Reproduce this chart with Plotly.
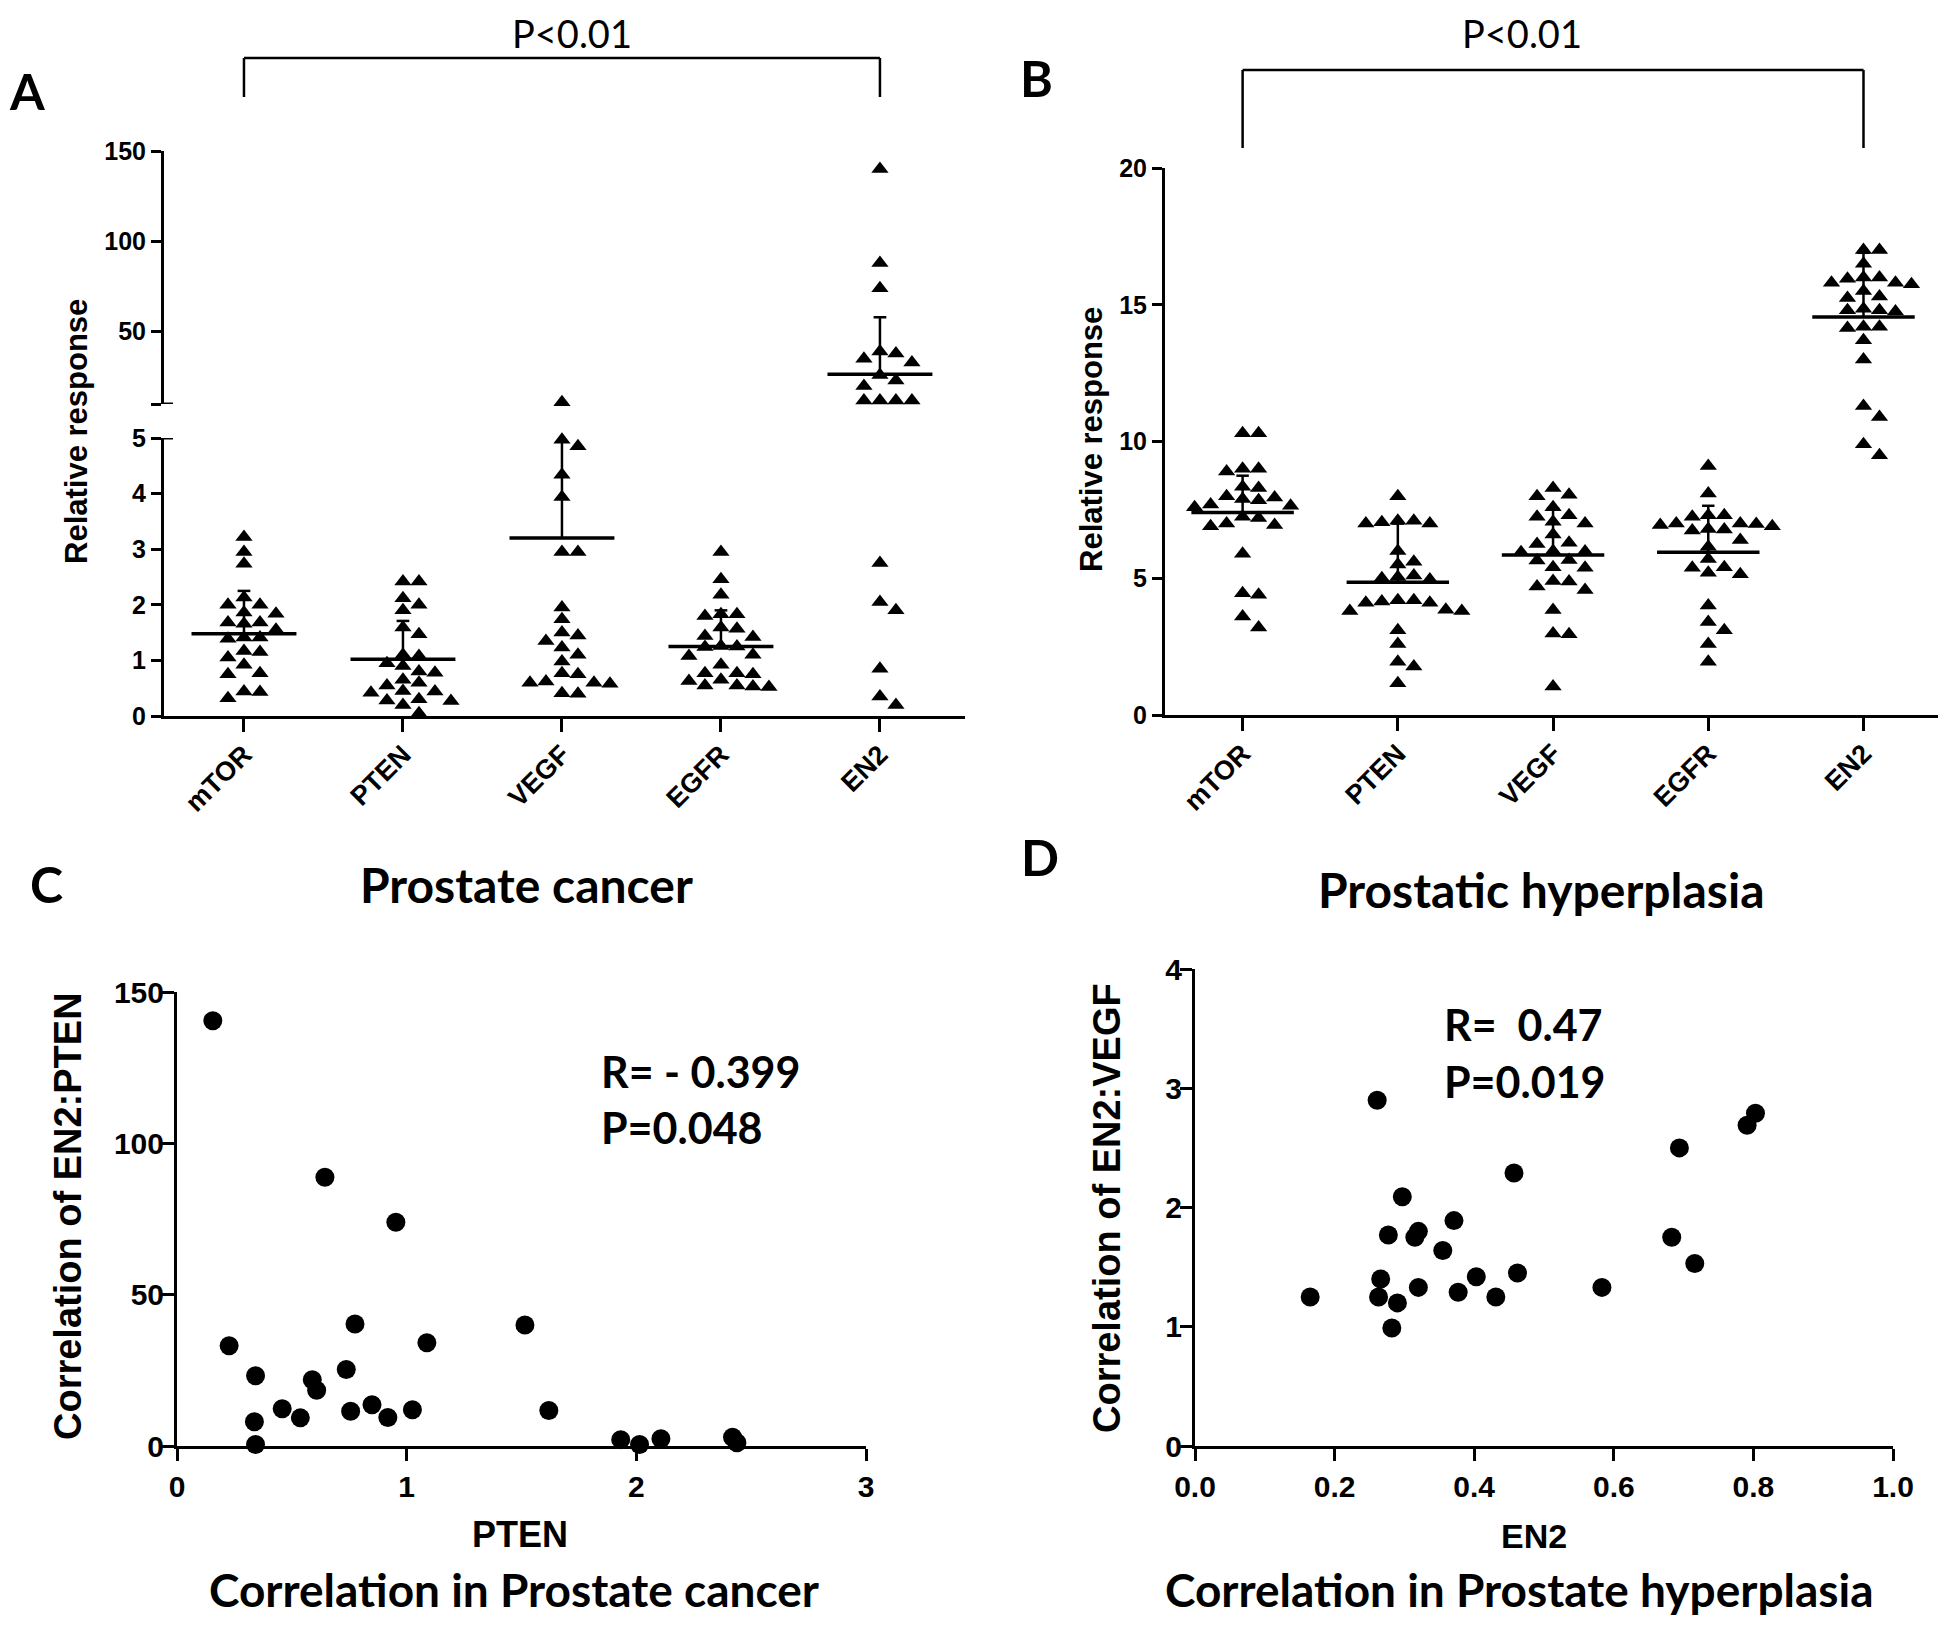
import plotly.graph_objects as go

# ---------------- data ----------------
categories = ["mTOR", "PTEN", "VEGF", "EGFR", "EN2"]

# Panel A – Prostate cancer (relative response)
a_mtor = [3.22, 2.95, 2.74, 2.13, 2.0, 2.0, 1.86, 1.84, 1.68, 1.68, 1.66, 1.55, 1.41, 1.41,
          1.39, 1.17, 1.15, 1.05, 0.92, 0.77, 0.75, 0.44, 0.43, 0.32]
a_pten = [2.42, 2.42, 2.12, 2.0, 1.9, 1.59, 1.47, 1.1, 1.08, 0.95, 0.9, 0.8, 0.78, 0.65, 0.6,
          0.55, 0.45, 0.44, 0.42, 0.3, 0.28, 0.27, 0.2, 0.05]
a_vegf = [11.0, 4.97, 4.85, 4.34, 3.94, 2.95, 2.95, 1.95, 1.74, 1.5, 1.45, 1.35, 1.23, 1.1, 0.98,
          0.77, 0.75, 0.62, 0.6, 0.6, 0.58, 0.41, 0.4]
a_egfr = [2.95, 2.46, 2.18, 1.83, 1.83, 1.8, 1.59, 1.57, 1.44, 1.42, 1.26, 1.25, 1.24, 1.1, 1.08,
          0.92, 0.77, 0.77, 0.75, 0.65, 0.63, 0.55, 0.55, 0.53, 0.52]
a_en2 = [140, 88, 74, 39, 38, 35, 33, 26, 23, 20, 12, 12, 12, 12, 2.75, 2.05, 1.9, 0.85, 0.35, 0.2]
a_means = [1.48, 1.02, 3.2, 1.25, 26.5]
a_sd_top = [2.25, 1.71, 5.05, 1.9, 58.0]

# Panel B – Prostatic hyperplasia
b_mtor = [10.3, 10.3, 9.0, 9.0, 8.9, 8.35, 8.3, 8.0, 7.95, 7.9, 7.85, 7.7, 7.65, 7.6, 7.25, 7.2,
          7.0, 6.95, 6.9, 5.9, 4.45, 4.4, 3.6, 3.2]
b_pten = [8.0, 7.1, 7.1, 7.05, 7.0, 7.0, 6.0, 5.6, 5.5, 5.1, 5.05, 5.0, 4.95, 4.2, 4.2, 4.15, 4.1,
          4.1, 3.85, 3.8, 3.8, 3.1, 2.6, 1.95, 1.77, 1.16]
b_vegf = [8.3, 8.05, 8.0, 7.6, 7.3, 7.25, 7.07, 7.0, 6.6, 6.3, 6.25, 6.0, 5.98, 5.95, 5.67, 5.65,
          5.4, 5.38, 4.9, 4.88, 4.7, 4.57, 3.84, 2.98, 2.95, 1.04]
b_egfr = [9.1, 8.1, 7.3, 7.3, 7.25, 7.0, 7.0, 6.98, 6.95, 6.9, 6.8, 6.78, 6.75, 6.4, 6.15, 5.7,
          5.4, 5.38, 5.2, 5.15, 4.0, 3.4, 3.1, 2.6, 1.95]
b_en2 = [17.0, 17.0, 16.5, 16.0, 16.0, 15.95, 15.8, 15.8, 15.75, 15.5, 15.3, 15.25, 14.85, 14.8,
         14.8, 14.75, 14.2, 14.2, 14.15, 13.7, 13.0, 11.3, 10.9, 9.9, 9.5]
b_means = [7.4, 4.85, 5.85, 5.95, 14.55]
b_sd_top = [8.75, 7.0, 7.55, 7.65, 16.9]

# Panel C – EN2:PTEN correlation, prostate cancer
c_pten = [0.156, 0.227, 0.342, 0.337, 0.342, 0.458, 0.537, 0.589, 0.608, 0.644, 0.737, 0.756,
          0.775, 0.849, 0.918, 0.953, 1.025, 1.088, 1.515, 1.619, 1.932, 2.014, 2.107, 2.419, 2.438]
c_ratio = [140.5, 33.1, 23.2, 8.0, 0.5, 12.3, 9.3, 21.9, 18.4, 88.8, 25.3, 11.5, 40.3, 13.6, 9.4,
           73.9, 12.0, 34.1, 40.0, 11.7, 2.1, 0.5, 2.4, 2.9, 1.1]

# Panel D – EN2:VEGF correlation, prostatic hyperplasia
d_en2 = [0.165, 0.261, 0.266, 0.263, 0.277, 0.290, 0.282, 0.297, 0.315, 0.320, 0.320, 0.355,
         0.371, 0.377, 0.403, 0.431, 0.457, 0.462, 0.583, 0.683, 0.694, 0.716, 0.791, 0.803]
d_ratio = [1.25, 2.90, 1.40, 1.25, 1.77, 1.20, 0.99, 2.09, 1.75, 1.80, 1.33, 1.64, 1.89, 1.29,
           1.42, 1.25, 2.29, 1.45, 1.33, 1.75, 2.50, 1.53, 2.69, 2.79]

# ---------------- layout helpers ----------------
W, H = 1946, 1627          # browser window
PAD = 8                    # default body margin of the html page
FW, FH = W - 2 * PAD, H - 2 * PAD


def fx(px):
    return (px - PAD) / FW


def fy(py):
    return 1 - (py - PAD) / FH


ARIAL = "Liberation Sans, Arial, sans-serif"
BOLD_ARIAL = dict(family=ARIAL, color="black", weight="bold")
CAL = "Lato, Carlito, Calibri, sans-serif"

# panel geometry (page pixels)
A_X = (164, 965); A_XR = [-0.503, 4.535]
A_LO = (716, 438); A_LO_R = [0, 5]
A_UP = (404, 151); A_UP_R = [10, 150]
B_X = (1165, 1938); B_XR = [-0.5, 4.48]
B_Y = (715, 168); B_YR = [0, 20]
C_X = (177, 866); C_XR = [0, 3]
C_Y = (1446, 992); C_YR = [0, 150]
D_X = (1195, 1893); D_XR = [0, 1]
D_Y = (1446, 969); D_YR = [0, 4]


def scale(pix, rng):
    return abs(pix[1] - pix[0]) / (rng[1] - rng[0])


def swarm(vals, center, ypu, xpu, base=0.0, w=16.0, h=11.0):
    order = sorted(range(len(vals)), key=lambda i: -vals[i])
    placed = []
    xs = [0.0] * len(vals)
    cands = [0]
    for j in range(1, 12):
        cands += [j, -j]
    for i in order:
        yp = (vals[i] - base) * ypu
        xp = 0.0
        for c in cands:
            xp = c * w
            if all(not (abs(xp - a) < w * 0.95 and abs(yp - b) < h) for a, b in placed):
                break
        placed.append((xp, yp))
        xs[i] = center + xp / xpu
    return xs


fig = go.Figure()
tri = dict(symbol="triangle-up", size=15, color="black")
dot = dict(symbol="circle", size=19, color="black")

# ---- Panel A ----
a_groups = [a_mtor, a_pten, a_vegf, a_egfr, a_en2]
a_xpu = scale(A_X, A_XR)
for ci, vals in enumerate(a_groups):
    lo = [v for v in vals if v <= 5.5]
    hi = [v for v in vals if v > 5.5]
    if lo:
        xs = swarm(lo, ci, scale(A_LO, A_LO_R), a_xpu)
        fig.add_trace(go.Scatter(x=xs, y=lo, mode="markers", marker=tri, xaxis="x", yaxis="y",
                                 cliponaxis=False, showlegend=False))
    if hi:
        xs = swarm(hi, ci, scale(A_UP, A_UP_R), a_xpu, base=A_UP_R[0])
        fig.add_trace(go.Scatter(x=xs, y=hi, mode="markers", marker=tri, xaxis="x", yaxis="y2",
                                 cliponaxis=False, showlegend=False))


def mean_sd(fig, means, tops, xa, ya_func):
    for ci, (m, t) in enumerate(zip(means, tops)):
        ya = ya_func(m)
        fig.add_trace(go.Scatter(x=[ci - 0.33, ci + 0.33], y=[m, m], mode="lines",
                                 line=dict(color="black", width=3.5), xaxis=xa, yaxis=ya,
                                 cliponaxis=False, showlegend=False))
        fig.add_trace(go.Scatter(x=[ci, ci, None, ci - 0.04, ci + 0.04], y=[m, t, None, t, t],
                                 mode="lines", line=dict(color="black", width=2.5), xaxis=xa,
                                 yaxis=ya, cliponaxis=False, showlegend=False))


mean_sd(fig, a_means, a_sd_top, "x", lambda m: "y2" if m > 5.5 else "y")

# ---- Panel B ----
b_groups = [b_mtor, b_pten, b_vegf, b_egfr, b_en2]
for ci, vals in enumerate(b_groups):
    xs = swarm(vals, ci, scale(B_Y, B_YR), scale(B_X, B_XR))
    fig.add_trace(go.Scatter(x=xs, y=vals, mode="markers", marker=tri, xaxis="x2", yaxis="y3",
                             cliponaxis=False, showlegend=False))
mean_sd(fig, b_means, b_sd_top, "x2", lambda m: "y3")

# ---- Panel C ----
fig.add_trace(go.Scatter(x=c_pten, y=c_ratio, mode="markers", marker=dot, xaxis="x3", yaxis="y4",
                         cliponaxis=False, showlegend=False))
# ---- Panel D ----
fig.add_trace(go.Scatter(x=d_en2, y=d_ratio, mode="markers", marker=dot, xaxis="x4", yaxis="y5",
                         cliponaxis=False, showlegend=False))

# ---------------- axes ----------------
common = dict(showline=True, linecolor="black", linewidth=3, showgrid=False, zeroline=False,
              ticks="outside", tickcolor="black", tickwidth=3, fixedrange=True)

cat_axis = dict(common, tickmode="array", tickvals=list(range(5)), ticktext=categories,
                tickangle=-45, ticklen=13, ticklabelstandoff=-4,
                tickfont=dict(BOLD_ARIAL, size=27))
yt = dict(BOLD_ARIAL, size=25)
ct = dict(BOLD_ARIAL, size=30)

fig.update_layout(
    width=FW, height=FH, margin=dict(l=0, r=0, t=0, b=0), autosize=False,
    paper_bgcolor="white", plot_bgcolor="white", template="none",
    xaxis=dict(cat_axis, domain=[fx(A_X[0]), fx(A_X[1])], range=A_XR, anchor="y"),
    yaxis=dict(common, domain=[fy(A_LO[0]), fy(A_LO[1])], range=A_LO_R, anchor="x",
               tickvals=[0, 1, 2, 3, 4, 5], ticklen=10, tickfont=yt),
    yaxis2=dict(common, domain=[fy(A_UP[0]), fy(A_UP[1])], range=A_UP_R, anchor="x",
                tickvals=[10, 50, 100, 150], ticktext=["", "50", "100", "150"], ticklen=10,
                tickfont=yt),
    xaxis2=dict(cat_axis, domain=[fx(B_X[0]), min(1.0, fx(B_X[1]))], range=B_XR, anchor="y3"),
    yaxis3=dict(common, domain=[fy(B_Y[0]), fy(B_Y[1])], range=B_YR, anchor="x2",
                tickvals=[0, 5, 10, 15, 20], ticklen=10, tickfont=yt),
    xaxis3=dict(common, domain=[fx(C_X[0]), fx(C_X[1])], range=C_XR, anchor="y4",
                tickvals=[0, 1, 2, 3], ticklen=12, tickfont=ct),
    yaxis4=dict(common, domain=[fy(C_Y[0]), fy(C_Y[1])], range=C_YR, anchor="x3",
                tickvals=[0, 50, 100, 150], ticklen=12, ticklabelstandoff=-8, tickfont=ct),
    xaxis4=dict(common, domain=[fx(D_X[0]), fx(D_X[1])], range=D_XR, anchor="y5",
                tickvals=[0, 0.2, 0.4, 0.6, 0.8, 1.0], tickformat=".1f", ticklen=12,
                tickfont=ct),
    yaxis5=dict(common, domain=[fy(D_Y[0]), fy(D_Y[1])], range=D_YR, anchor="x4",
                tickvals=[0, 1, 2, 3, 4], ticklen=12, ticklabelstandoff=-8, tickfont=ct),
)

# caps at the ends of the broken axis segments (panel A)
for yref, val in [("y2", A_UP_R[0]), ("y", A_LO_R[1])]:
    fig.add_shape(type="line", xref="paper", yref=yref, x0=fx(A_X[0]), x1=fx(A_X[0] + 9),
                  y0=val, y1=val, line=dict(color="black", width=3))


# ---------------- brackets ----------------
def bracket(xref, top, bottom):
    for x0, y0, x1, y1 in [(0, top, 4, top), (0, top, 0, bottom), (4, top, 4, bottom)]:
        fig.add_shape(type="line", xref=xref, yref="paper", x0=x0, x1=x1, y0=fy(y0), y1=fy(y1),
                      line=dict(color="black", width=2.5))


bracket("x", 58, 97)
bracket("x2", 70, 148)


# ---------------- text ----------------
def txt(text, x, y, size, family=CAL, weight="bold", angle=0, xanchor="center"):
    fig.add_annotation(text=text, x=fx(x), y=fy(y), xref="paper", yref="paper", showarrow=False,
                       xanchor=xanchor, yanchor="middle", textangle=angle,
                       font=dict(family=family, size=size, color="black", weight=weight))


txt("P&lt;0.01", 572, 33, 38, weight="normal")
txt("P&lt;0.01", 1522, 33, 38, weight="normal")
txt("A", 27, 91, 50)
txt("B", 1036, 78, 50)
txt("C", 46, 884, 50)
txt("D", 1040, 857, 50)
txt("Relative response", 77, 432, 31, family=ARIAL, angle=-90)
txt("Relative response", 1092, 440, 31, family=ARIAL, angle=-90)
txt("Prostate cancer", 526, 884, 48)
txt("Prostatic hyperplasia", 1541, 889, 48)
txt("Correlation of EN2:PTEN", 68, 1216, 38, family=ARIAL, angle=-90)
txt("Correlation of EN2:VEGF", 1107, 1208, 38, family=ARIAL, angle=-90)
txt("PTEN", 520, 1534, 36, family=ARIAL)
txt("EN2", 1534, 1536, 34, family=ARIAL)
txt("Correlation in Prostate cancer", 514, 1589, 46)
txt("Correlation in Prostate hyperplasia", 1519, 1589, 46)
txt("R= - 0.399", 599, 1071, 43, xanchor="left")
txt("P=0.048", 599, 1127, 43, xanchor="left")
txt("R=&nbsp; 0.47", 1442, 1025, 43, xanchor="left")
txt("P=0.019", 1442, 1081, 43, xanchor="left")

fig.write_html("out.html")
